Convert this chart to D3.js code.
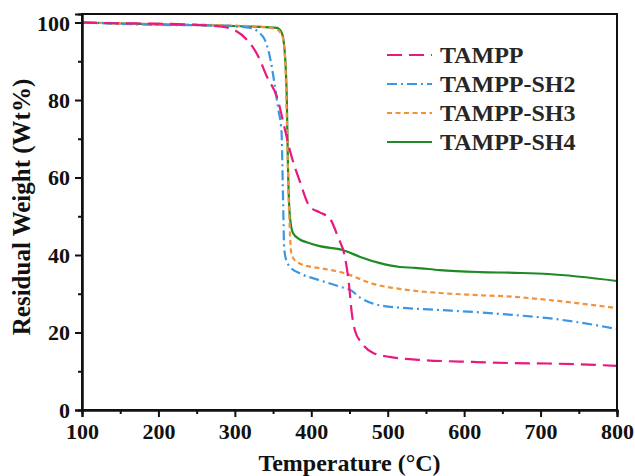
<!DOCTYPE html>
<html>
<head>
<meta charset="utf-8">
<script src="https://cdn.jsdelivr.net/npm/d3@7/dist/d3.min.js"></script>
<style>
  html, body { margin: 0; padding: 0; background: #fff; }
  svg { display: block; }
  text { font-family: "Liberation Serif", "Times New Roman", serif; font-weight: bold; }
</style>
</head>
<body>
<svg id="chart" width="635" height="476"></svg>
<script>
// ---- data ----
const seriesNames = ["TAMPP", "TAMPP-SH2", "TAMPP-SH3", "TAMPP-SH4"];

const tamppT = [100, 150, 200, 250, 280, 300, 316, 330, 342, 355, 366, 372, 385, 398, 411, 424, 435, 444, 449, 453, 457, 466, 481, 503, 546, 612, 664, 710, 800];
const tamppW = [100, 99.8, 99.7, 99.4, 99, 98, 95.5, 91.5, 86, 80.8, 72, 67, 59, 52.5, 51, 49.5, 44.6, 39.5, 33, 25, 20.6, 17.3, 14.7, 13.7, 12.9, 12.4, 12.1, 12, 11.4];

const sh2T = [100, 200, 280, 300, 320, 337, 346, 352.5, 357, 361, 363, 364.5, 367, 372, 385, 411, 438, 451, 464, 490, 525, 568, 612, 666, 710, 754, 800];
const sh2W = [100, 99.4, 99.2, 99, 98.6, 96.3, 91, 83.4, 77.4, 72, 55, 42, 38.8, 37, 35.3, 33.5, 31.8, 31, 29, 27, 26.3, 25.8, 25.3, 24.5, 23.7, 22.5, 20.9];

const sh3T = [100, 200, 300, 340, 355, 362, 366, 368, 370, 372, 373.5, 377, 385, 398, 411, 438, 451, 477, 525, 568, 612, 666, 710, 800];
const sh3W = [100, 99.6, 99.2, 98.8, 98.2, 96.5, 90, 75, 58, 46, 41, 39, 37.8, 37, 36.6, 35.6, 34.8, 32.8, 31, 30.2, 29.7, 29.2, 28.4, 26.3];

const sh4T = [100, 200, 300, 340, 355, 361.5, 365, 368, 369.5, 372, 376, 385, 394, 411, 441, 464, 490, 516, 536, 568, 621, 666, 710, 800];
const sh4W = [100, 99.5, 99.1, 98.8, 98.6, 97.3, 93, 80, 62.7, 50, 45.7, 44, 43.3, 42.3, 41.3, 39.5, 37.9, 36.9, 36.7, 36.1, 35.6, 35.4, 35.1, 33.3];

const xTicks = [100, 200, 300, 400, 500, 600, 700, 800];
const yTicks = [0, 20, 40, 60, 80, 100];

// ---- styling ----
const colors = ["#e8197f", "#3d96e2", "#f2933a", "#1f8a24"];
const dashes = ["15,7", "10,4,2,4", "5,3.5", null];

const svg = d3.select("#chart");
const x = d3.scaleLinear().domain([100, 800]).range([82, 617]);
const y = d3.scaleLinear().domain([0, 102.2]).range([410, 14]);

const series = [
  {name: seriesNames[0], T: tamppT, W: tamppW},
  {name: seriesNames[1], T: sh2T, W: sh2W},
  {name: seriesNames[2], T: sh3T, W: sh3W},
  {name: seriesNames[3], T: sh4T, W: sh4W}
];

const line = d3.line()
  .x(d => x(d[0]))
  .y(d => y(d[1]))
  .curve(d3.curveMonotoneX);

const plot = svg.append("g");
// draw order: green, orange, blue, pink on top? pink dashed appears on top in crossing
const order = [3, 2, 1, 0];
order.forEach(i => {
  const s = series[i];
  const pts = s.T.map((t, k) => [t, s.W[k]]);
  plot.append("path")
    .attr("d", line(pts))
    .attr("fill", "none")
    .attr("stroke", colors[i])
    .attr("stroke-width", 2.2)
    .attr("stroke-dasharray", dashes[i]);
});

// frame
svg.append("rect")
  .attr("x", 82).attr("y", 14)
  .attr("width", 617 - 82).attr("height", 410 - 14)
  .attr("fill", "none").attr("stroke", "#111").attr("stroke-width", 2);

// x axis
const xAxis = svg.append("g").attr("transform", "translate(0,410)")
  .call(d3.axisBottom(x).tickValues(xTicks).tickSize(7).tickPadding(6).tickFormat(d3.format("d")));
const xMinor = svg.append("g").attr("transform", "translate(0,410)")
  .call(d3.axisBottom(x).tickValues(d3.range(150, 800, 100)).tickSize(4).tickFormat(""));
// y axis
const yAxis = svg.append("g").attr("transform", "translate(82,0)")
  .call(d3.axisLeft(y).tickValues(yTicks).tickSize(7).tickPadding(5).tickFormat(d3.format("d")));
const yMinor = svg.append("g").attr("transform", "translate(82,0)")
  .call(d3.axisLeft(y).tickValues(d3.range(10, 100, 20)).tickSize(4).tickFormat(""));

[xAxis, xMinor, yAxis, yMinor].forEach(g => {
  g.select(".domain").attr("stroke", "#111").attr("stroke-width", 2);
  g.selectAll(".tick line").attr("stroke", "#111").attr("stroke-width", 2);
  g.selectAll(".tick text")
    .attr("fill", "#111")
    .style("font-family", "'Liberation Serif', 'Times New Roman', serif")
    .style("font-weight", "bold")
    .style("font-size", "22px");
});
yAxis.selectAll(".tick text").attr("dy", "0.34em");

// axis titles
svg.append("text")
  .attr("x", 349.5).attr("y", 471)
  .attr("text-anchor", "middle")
  .attr("fill", "#111")
  .style("font-size", "24px")
  .text("Temperature (°C)");

svg.append("text")
  .attr("transform", "translate(30,207) rotate(-90)")
  .attr("text-anchor", "middle")
  .attr("fill", "#111")
  .style("font-size", "25px")
  .text("Residual Weight (Wt%)");

// legend
const legendY = [55, 84, 113, 142];
const lg = svg.append("g");
series.forEach((s, i) => {
  lg.append("line")
    .attr("x1", 387).attr("x2", 432)
    .attr("y1", legendY[i]).attr("y2", legendY[i])
    .attr("stroke", colors[i])
    .attr("stroke-width", 2.2)
    .attr("stroke-dasharray", dashes[i]);
  lg.append("text")
    .attr("x", 440).attr("y", legendY[i] + 8)
    .attr("fill", "#262626")
    .style("font-size", "24px")
    .text(s.name);
});
</script>
</body>
</html>
